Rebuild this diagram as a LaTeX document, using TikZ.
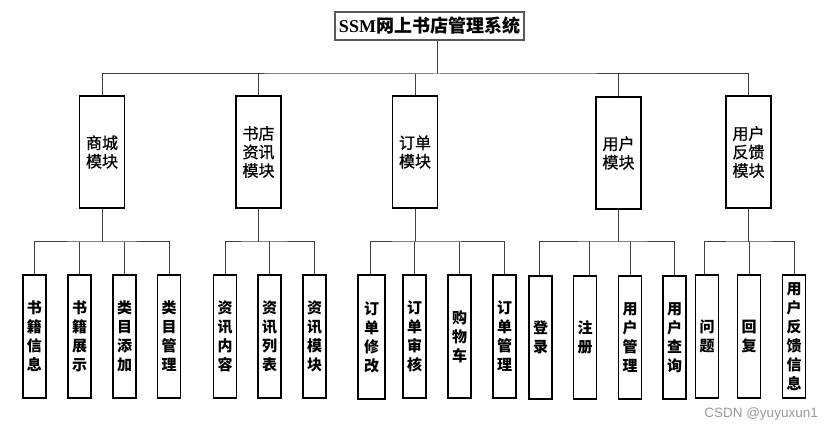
\documentclass[tikz,border=0pt]{standalone}
\usepackage{fontspec}
\newfontfamily\cjk{Noto Sans CJK SC}
\newfontfamily\cjkmod[FakeBold=0.8]{Noto Sans CJK SC}
\newfontfamily\titlelatin{Liberation Serif}
\newfontfamily\marksans{Liberation Sans}
\begin{document}
\begin{tikzpicture}[x=1pt,y=-1pt,
  conn/.style={draw=black!75,line width=1pt},
  titlebox/.style={draw=black!65,line width=1.6pt,fill=white,minimum width=189pt,minimum height=28pt,inner sep=0pt,
    font=\fontsize{18}{20}\selectfont},
  modbox/.style={draw=black,line width=1.1pt,fill=white,minimum width=45pt,minimum height=112pt,inner sep=0pt,
    align=center,font=\cjkmod\fontsize{16}{18.5}\selectfont},
  leaf/.style={draw=black,line width=1.1pt,fill=white,minimum width=23pt,minimum height=123pt,inner sep=0pt,
    align=center,font=\cjk\bfseries\fontsize{15}{19}\selectfont}]
\useasboundingbox (0,0) rectangle (825,430);
\fill[white] (0,0) rectangle (825,430);

% root
\node[titlebox] (title) at (429.5,26) {{\titlelatin\bfseries SSM}{\cjk\bfseries 网上书店管理系统}};

% second level modules
\node[modbox] (m1) at (102,152) {商城\\模块};
\node[modbox] (m2) at (258.5,152) {书店\\资讯\\模块};
\node[modbox] (m3) at (415,152) {订单\\模块};
\node[modbox] (m4) at (618.5,153) {用户\\模块};
\node[modbox] (m5) at (748.5,152) {用户\\反馈\\模块};

% leaves
\node[leaf] (l11) at (34.5,336.5) {书\\籍\\信\\息};
\node[leaf] (l12) at (79.5,336.5) {书\\籍\\展\\示};
\node[leaf] (l13) at (124.5,336.5) {类\\目\\添\\加};
\node[leaf] (l14) at (169,336.5) {类\\目\\管\\理};

\node[leaf] (l21) at (225,336.5) {资\\讯\\内\\容};
\node[leaf] (l22) at (269.5,336.5) {资\\讯\\列\\表};
\node[leaf] (l23) at (314.5,336.5) {资\\讯\\模\\块};

\node[leaf,minimum width=27pt,minimum height=124pt] (l31) at (371.5,337) {订\\单\\修\\改};
\node[leaf] (l32) at (414.5,336.5) {订\\单\\审\\核};
\node[leaf] (l33) at (459.5,336.5) {购\\物\\车};
\node[leaf] (l34) at (504.5,336.5) {订\\单\\管\\理};

\node[leaf] (l41) at (540.5,337.5) {登\\录};
\node[leaf] (l42) at (585,337.5) {注\\册};
\node[leaf] (l43) at (630,337.5) {用\\户\\管\\理};
\node[leaf] (l44) at (674.5,337.5) {用\\户\\查\\询};

\node[leaf] (l51) at (707,336.5) {问\\题};
\node[leaf] (l52) at (749,336.5) {回\\复};
\node[leaf] (l53) at (794,336.5) {用\\户\\反\\馈\\信\\息};

% bus junctions
\coordinate (tj) at (437,74);
\coordinate (b1) at (102,242);
\coordinate (b2) at (258.5,242);
\coordinate (b3) at (415,242);
\coordinate (b4) at (618.5,242);
\coordinate (b5) at (748.5,242);

% root to modules
\draw[conn] ([xshift=7.5pt]title.south) -- (tj);
\draw[conn] (m1.north) |- (tj) -| (m5.north);
\foreach \m in {m2,m3,m4} \draw[conn] (\m.north) -- (\m.north |- tj);

% modules to leaves
\draw[conn] (m1.south) -- (b1);
\draw[conn] (l11.north) |- (b1) -| (l14.north);
\foreach \l in {l12,l13} \draw[conn] (\l.north) -- (\l.north |- b1);

\draw[conn] (m2.south) -- (b2);
\draw[conn] (l21.north) |- (b2) -| (l23.north);
\draw[conn] (l22.north) -- (l22.north |- b2);

\draw[conn] (m3.south) -- (b3);
\draw[conn] ([xshift=-1.5pt]l31.north) |- (b3) -| (l34.north);
\foreach \l in {l32,l33} \draw[conn] (\l.north) -- (\l.north |- b3);

\draw[conn] (m4.south) -- (b4);
\draw[conn] ([xshift=-1.5pt]l41.north) |- (b4) -| (l44.north);
\draw[conn] ([xshift=4pt]l42.north) -- ([xshift=4pt]l42.north |- b4);
\draw[conn] (l43.north) -- (l43.north |- b4);

\draw[conn] (m5.south) -- (b5);
\draw[conn] ([xshift=-3pt]l51.north) |- (b5) -| (l53.north);
\draw[conn] (l52.north) -- (l52.north |- b5);

% watermark
\node[font=\marksans\fontsize{13.5}{16}\selectfont,text=black!40,anchor=east,inner sep=0pt] (wm) at (818,414) {CSDN @yuyuxun1};
\end{tikzpicture}
\end{document}
